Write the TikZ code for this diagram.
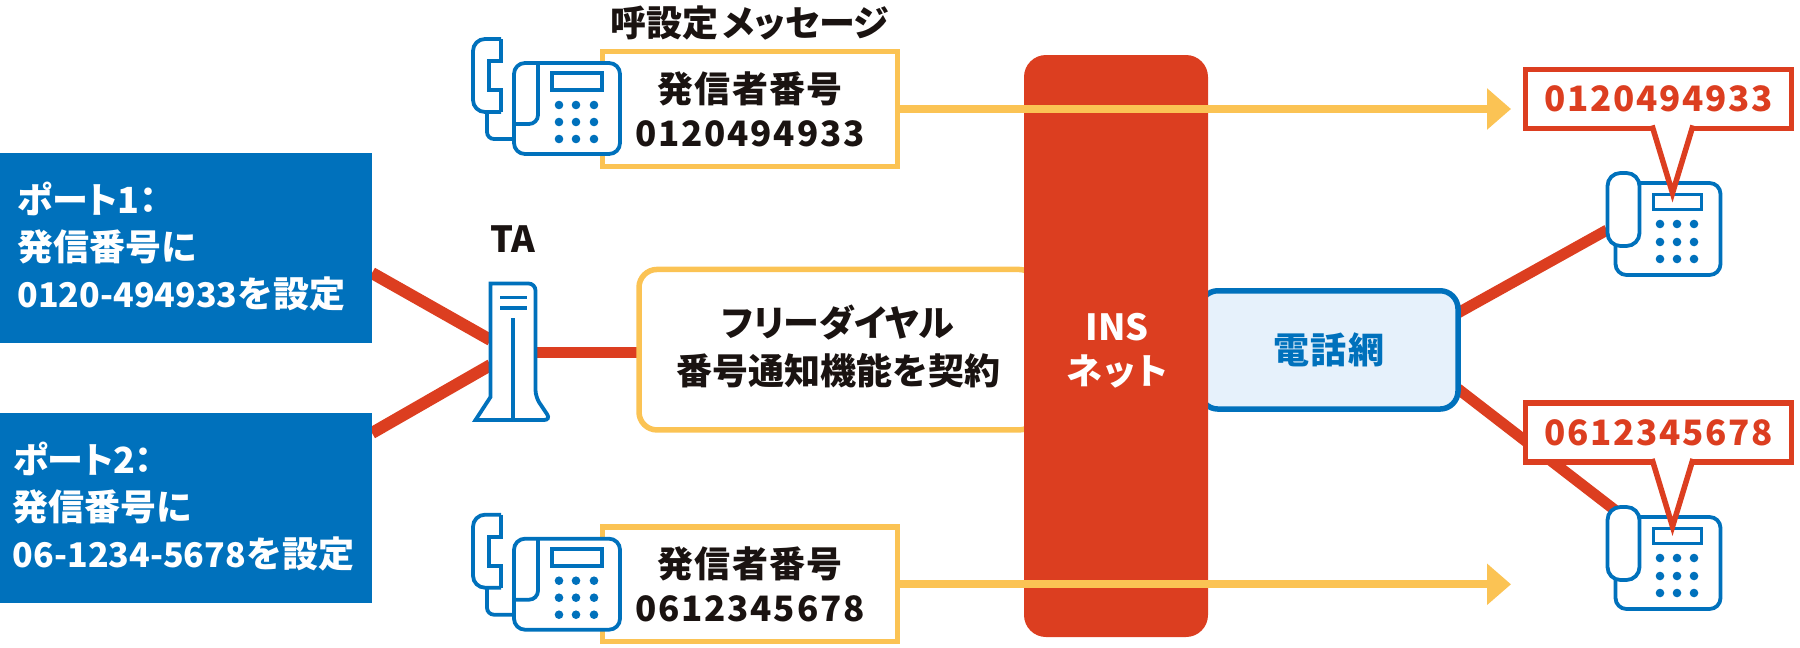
\documentclass[tikz,border=0pt]{standalone}
\usepackage{fontspec}
\setmainfont{Noto Sans CJK JP}
\newfontfamily\kanafont{Noto Sans CJK JP}[RawFeature=+palt]
\usetikzlibrary{arrows.meta,backgrounds}

\definecolor{inkblack}{HTML}{1A1311}
\definecolor{nttblue}{HTML}{0071BC}
\definecolor{paleblue}{HTML}{E6F1FB}
\definecolor{insred}{HTML}{DC3E20}
\definecolor{msgyellow}{HTML}{FBC354}

\newcommand{\bigtext}{\fontsize{36}{47}\selectfont\bfseries}
\newcommand{\smalldigits}[1]{{\fontsize{34}{47}\selectfont #1}}
\newcommand{\kana}[1]{{\kanafont\bfseries #1}}
\newcommand{\spaced}{\addfontfeature{LetterSpace=4}}
\newcommand{\spaceddigits}[1]{{\fontsize{35}{44}\selectfont\addfontfeature{LetterSpace=5}#1}}

\tikzset{
  portbox/.style={fill=nttblue, text=white, minimum width=372, minimum height=190,
    align=left, outer sep=0, font=\bigtext, text depth=6},
  msgbox/.style={draw=msgyellow, line width=5.5, fill=white, text=inkblack, minimum width=294.6,
    minimum height=114.6, align=center, outer sep=0, font=\fontsize{36}{44}\selectfont\bfseries\spaced},
  callbox/.style={draw=insred, line width=5.5, fill=white, text=insred, minimum width=265.6,
    minimum height=58.6, outer sep=0, font=\bigtext},
  calltail/.style={draw=insred, line width=5.5, fill=white, miter limit=10},
  redline/.style={draw=insred, line width=11},
  msgarrow/.style={draw=msgyellow, line width=8, -{Triangle[length=24,width=40]}},
  iconline/.style={draw=nttblue, line width=3.8, fill=white},
  deskphone/.pic={
    % cord and handset
    \draw[iconline, fill=none, rounded corners=7] (-25,51) -- (-25,78) -- (2,78);
    \draw[iconline, rounded corners=12] (-11,51) -- (-39,51) -- (-39,-22) -- (-11,-22);
    \draw[iconline] (-11,-22) -- (-11,0) -- (-23,0) -- (-23,29) -- (-11,29) -- (-11,51);
    % body
    \draw[iconline, rounded corners=11] (2,2) rectangle (108,93);
    \draw[iconline, fill=none, rounded corners=9] (26,2) -- (26,63) -- (2,63);
    \draw[iconline, fill=none] (40,12) rectangle (90,29);
    \foreach \x in {47,64,82} {
      \foreach \y in {44,61,78} {
        \fill[nttblue] (\x,\y) circle (4.3);
      }
    }
  },
  wallphone/.pic={
    \draw[iconline, rounded corners=11] (2,2) rectangle (107,94);
    \draw[iconline, rounded corners=13] (-6,-8) rectangle (26,65);
    \draw[iconline, fill=none] (40,13.5) rectangle (88,28.5);
    \foreach \x in {46.5,63.5,80.5} {
      \foreach \y in {43,61,78} {
        \fill[nttblue] (\x,\y) circle (4.3);
      }
    }
  }
}

\begin{document}
\begin{tikzpicture}[x=1pt, y=-1pt]
  \useasboundingbox (0,0) rectangle (1800,648);

  % Ports on the left
  \node[portbox] (portA) at (186,248)
    {\kana{ポート1：}\\発信番号に\\\smalldigits{0120-494933}を設定\hspace*{9pt}};
  \node[portbox] (portB) at (186,508)
    {\kana{ポート2：}\\発信番号に\\\smalldigits{06-1234-5678}を設定\hspace*{5pt}};

  % Terminal adapter
  \node[font=\bigtext, text=inkblack] (talabel) at (513,239) {TA};
  \node[minimum width=45, minimum height=137, outer sep=0, inner sep=0] (ta) at (513,352) {};
  \draw[iconline, rounded corners=7] (ta.north west) -- (ta.north east) -- (535.5,397) -- (551,420)
    [sharp corners] -- (475.5,420) -- (490.5,397) -- cycle;
  \draw[iconline] (513,318) -- (513,420);
  \foreach \y in {297.5,308} {
    \draw[iconline] (500,\y) -- (526.5,\y);
  }

  % Call set-up messages
  \node[font=\fontsize{36}{47}\selectfont\bfseries, text=inkblack] (msgtitle) at (750,23)
    {呼設定\hspace{4pt}\kana{メッセージ}};
  \node[msgbox] (msgA) at (750,109) {発信者番号\\\spaceddigits{0120494933}};
  \node[msgbox] (msgB) at (750,584.3) {発信者番号\\\spaceddigits{0612345678}};

  % Contract and networks
  \node[draw=msgyellow, line width=5.5, fill=white, rounded corners=18, minimum width=398,
    minimum height=160.5, align=center, outer sep=0, font=\fontsize{36}{48}\selectfont\bfseries,
    text=inkblack, text depth=10] (contract)
    at (838,349.7) {\kana{フリーダイヤル}\\番号通知機能を契約};
  \node[draw=nttblue, line width=5.5, fill=paleblue, rounded corners=18, minimum width=258,
    minimum height=118.3, outer sep=0, font=\bigtext\spaced, text=nttblue] (telnet)
    at (1329,349.9) {電話網};
  \node[fill=insred, rounded corners=22, minimum width=184, minimum height=582, outer sep=0] (ins)
    at (1116,346) {};
  \node[align=center, font=\fontsize{36}{44}\selectfont\bfseries, text=white] (inslabel)
    at (1117,351) {INS\\\kana{\addfontfeature{LetterSpace=6}ネット}};

  % Receiving phones
  \coordinate (setA) at (1607,230);
  \coordinate (setB) at (1620,514);
  \pic at (512,61) {deskphone};
  \pic at (512,536.7) {deskphone};
  \pic at (1613.5,181) {wallphone};
  \pic at (1613.5,515) {wallphone};

  % Caller number displays
  \node[callbox] (callA) at (1658.5,99) {\spaceddigits{0120494933}};
  \node[callbox] (callB) at (1658.5,432.5) {\spaceddigits{0612345678}};
  \draw[calltail] (1652,125.5) -- (1672.5,193) -- (1693,125.5);
  \draw[calltail] (1652,459) -- (1672.5,526.5) -- (1693,459);

  % Message arrows
  \coordinate (endA) at (1511,109);
  \coordinate (endB) at (1511,584.3);
  \draw[msgarrow] (msgA.east) -- (endA);
  \draw[msgarrow] (msgB.east) -- (endB);

  % Lines
  \begin{scope}[on background layer]
    \draw[redline, line width=12] ([yshift=-25pt]portA.east) -- ([yshift=12pt]ta.west);
    \draw[redline, line width=12] ([yshift=75pt]portB.east) -- ([yshift=-13pt]ta.west);
    \draw[redline] (ta.east) -- (ta.east -| contract.west);
    \draw[redline] ([yshift=37pt]telnet.east) -- (setA);
    \draw[redline] ([yshift=-39pt]telnet.east) -- (setB);
  \end{scope}
\end{tikzpicture}
\end{document}
